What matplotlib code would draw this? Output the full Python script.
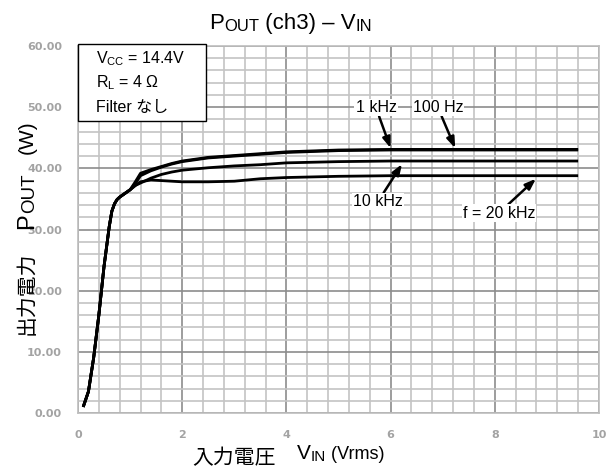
import matplotlib
matplotlib.use('Agg')
import matplotlib.pyplot as plt
from matplotlib.patches import Rectangle
from matplotlib.transforms import IdentityTransform
from matplotlib.ticker import MultipleLocator, FormatStrFormatter

plt.rcParams['font.family'] = ['Liberation Sans', 'Noto Sans CJK JP', 'DejaVu Sans']
plt.rcParams['mathtext.fontset'] = 'custom'
plt.rcParams['mathtext.rm'] = 'Liberation Sans'
plt.rcParams['mathtext.it'] = 'Liberation Sans'

## Values
vin = [0.1, 0.2, 0.3, 0.4, 0.5, 0.6, 0.65, 0.7, 0.75, 0.8, 0.9, 1.0, 1.1, 1.2, 1.4,
       1.6, 1.8, 2.0, 2.5, 3.0, 3.5, 4.0, 5.0, 6.0, 7.0, 8.0, 9.0, 9.6]
rise = [1.0, 3.5, 9.0, 16.0, 24.0, 30.5, 33.0, 34.2, 34.9, 35.3, 35.9, 36.5]
pout_100hz = rise + [37.8, 39.2, 39.8, 40.3, 40.8, 41.2, 41.8, 42.1, 42.4, 42.7,
                     43.0, 43.1, 43.1, 43.1, 43.1, 43.1]
pout_1khz = rise + [37.5, 38.8, 39.6, 40.2, 40.7, 41.1, 41.7, 42.0, 42.3, 42.6,
                    42.9, 43.0, 43.0, 43.0, 43.0, 43.0]
pout_10khz = rise + [37.2, 37.6, 38.4, 39.0, 39.4, 39.7, 40.1, 40.4, 40.6, 40.9,
                     41.1, 41.2, 41.2, 41.2, 41.2, 41.2]
pout_20khz = rise + [37.2, 37.8, 38.1, 38.0, 37.9, 37.8, 37.8, 37.9, 38.3, 38.5,
                     38.7, 38.8, 38.8, 38.8, 38.8, 38.8]

curves = [pout_100hz, pout_1khz, pout_10khz, pout_20khz]

## label text, text position, arrow tip
labels = [
    ('1 kHz', (5.72, 49.9), (6.0, 43.3)),
    ('100 Hz', (6.91, 49.9), (7.24, 43.3)),
    ('10 kHz', (5.76, 34.6), (6.22, 40.7)),
    ('f = 20 kHz', (8.08, 32.7), (8.79, 38.3)),
]

cond_lines = ['V$_{\\mathrm{CC}}$ = 14.4V', 'R$_{\\mathrm{L}}$ = 4 Ω', 'Filter なし']

fig = plt.figure(figsize=(6.07, 4.73), dpi=100)
ax = fig.add_axes([0.1285, 0.1268, 0.8583, 0.7759])
H = 473


def runs(x, y, parts, rot=False):
    # lay out text pieces one after another (pixels, y from top of image)
    r = fig.canvas.get_renderer()
    y = H - y
    for s, size, shift in parts:
        if rot:
            t = fig.text(x + shift, y, s, fontsize=size, rotation=90,
                         rotation_mode='anchor', ha='left', va='baseline',
                         transform=IdentityTransform())
            y += t.get_window_extent(r).height
        else:
            t = fig.text(x, y - shift, s, fontsize=size, ha='left', va='baseline',
                         transform=IdentityTransform())
            x += t.get_window_extent(r).width


ax.set_xlim(0, 10)
ax.set_ylim(0, 60)
ax.xaxis.set_major_locator(MultipleLocator(2))
ax.xaxis.set_minor_locator(MultipleLocator(0.4))
ax.yaxis.set_major_locator(MultipleLocator(10))
ax.yaxis.set_minor_locator(MultipleLocator(2))
ax.yaxis.set_major_formatter(FormatStrFormatter('%.2f'))
ax.grid(which='minor', color='#c4c4c4', lw=1.2)
ax.grid(which='major', color='#8c8c8c', lw=1.2)
ax.set_axisbelow(True)
for s in ax.spines.values():
    s.set_color('#bdbdbd')
    s.set_linewidth(1.2)
ax.tick_params(which='both', length=0)
ax.tick_params(axis='y', pad=11.5)
ax.tick_params(axis='x', pad=12)
for t in ax.get_xticklabels() + ax.get_yticklabels():
    t.set_family('DejaVu Sans')
    t.set_fontsize(8)
    t.set_fontweight('bold')
    t.set_color('#a3a3a3')

for c in curves:
    ax.plot(vin, c, color='black', lw=2.0, solid_capstyle='butt')

for txt, pos, tip in labels:
    ax.annotate(txt, xy=tip, xytext=pos, ha='center', va='center', fontsize=11.5,
                bbox=dict(facecolor='white', edgecolor='none', pad=0.8),
                arrowprops=dict(arrowstyle='-|>,head_length=0.55,head_width=0.2',
                                color='black', lw=1.8, shrinkA=0, shrinkB=0))

## conditions box at the top left corner
ax.add_patch(Rectangle((0, 47.7), 2.457, 12.6, facecolor='white', edgecolor='black',
                       lw=1.0, clip_on=False, zorder=5))
for i, line in enumerate(cond_lines):
    ax.text(0.345, 57.9 - 3.95 * i, line, ha='left', va='center', fontsize=11.5,
            zorder=6)

## title
runs(209, 29, [('P', 16, 0), ('OUT', 12, 1.5), (' (ch3) – V', 16, 0), ('IN', 12, 1.5)])

## x label
runs(192, 464, [('入力電圧', 15, 0)])
runs(297, 459, [('V', 15, 0), ('IN', 11, 2), (' (Vrms)', 13, 0)])

## y label (rotated)
runs(33, 335, [('出力電力', 15, 0)], rot=True)
runs(33, 229, [('P', 17, 0), ('OUT', 13.5, 1.5)], rot=True)
runs(33, 154, [('(W)', 15, 0)], rot=True)

plt.savefig('out.png', dpi=100)
plt.close()
